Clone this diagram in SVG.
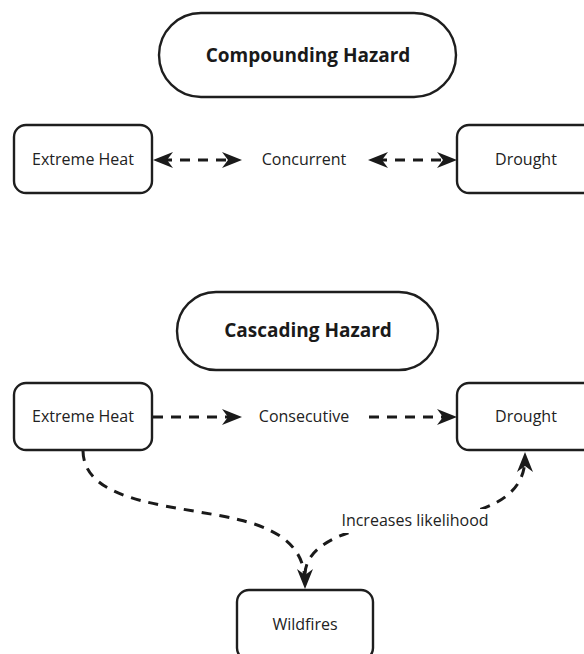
<svg xmlns="http://www.w3.org/2000/svg" width="584" height="654" viewBox="0 0 584 654">
<defs>
<style>
.box{fill:#fff;stroke:#1e1e1e;stroke-width:2.4}
.t{font-family:"Open Sans","Liberation Sans",sans-serif;font-size:16px;fill:#222;text-anchor:middle;dominant-baseline:central}
.tb{font-family:"Open Sans","Liberation Sans",sans-serif;font-size:19px;font-weight:bold;fill:#1a1a1a;text-anchor:middle;dominant-baseline:central}
.c{fill:none;stroke:#1a1a1a;stroke-width:3;stroke-dasharray:10 8}
</style>
<marker id="ah" viewBox="0 0 20 18" refX="14" refY="9" markerWidth="20" markerHeight="18" markerUnits="userSpaceOnUse" orient="auto-start-reverse">
<path d="M0,1 L20,9 L0,17 L6,9 Z" fill="#1a1a1a"/>
</marker>
</defs>
<rect width="584" height="654" fill="#fff"/>
<g id="compounding">
<rect class="box" x="159" y="13" width="297" height="84" rx="42"/>
<text class="tb" x="308" y="55">Compounding Hazard</text>
</g>
<g id="heat1">
<rect class="box" x="14" y="125" width="138" height="68" rx="12"/>
<text class="t" x="83" y="159">Extreme Heat</text>
</g>
<g id="drought1">
<rect class="box" x="457" y="125" width="140" height="68" rx="12"/>
<text class="t" x="526" y="159">Drought</text>
</g>
<g id="cascading">
<rect class="box" x="177" y="292" width="261" height="78" rx="39"/>
<text class="tb" x="308" y="330">Cascading Hazard</text>
</g>
<g id="heat2">
<rect class="box" x="14" y="383" width="138" height="67" rx="12"/>
<text class="t" x="83" y="416">Extreme Heat</text>
</g>
<g id="drought2">
<rect class="box" x="457" y="383" width="140" height="67" rx="12"/>
<text class="t" x="526" y="416">Drought</text>
</g>
<g id="wildfires">
<rect class="box" x="237" y="590" width="136" height="70" rx="12"/>
<text class="t" x="305" y="624">Wildfires</text>
</g>
<g id="connectors">
<path class="c" d="M159,160 L236,160" marker-start="url(#ah)" marker-end="url(#ah)" stroke-dasharray="10 12" stroke-dashoffset="15"/>
<text class="t" x="304" y="159">Concurrent</text>
<path class="c" d="M374,160 L451,160" marker-start="url(#ah)" marker-end="url(#ah)" stroke-dasharray="10 12" stroke-dashoffset="15"/>
<path class="c" d="M153,417 L236,417" marker-end="url(#ah)" stroke-dasharray="10 10"/>
<text class="t" x="304" y="416">Consecutive</text>
<path class="c" d="M369,417 L451,417" marker-end="url(#ah)" stroke-dasharray="10 10"/>
<path class="c" d="M83,451 C84,505 180,505 240,520 C290,532 305,555 305,583" marker-end="url(#ah)"/>
<path class="c" d="M305,574 C306,540 360,524 420,520 C480,516 525,500 525,458" marker-end="url(#ah)"/>
<rect x="336" y="509" width="158" height="24" fill="#fff"/>
<text class="t" x="415" y="520">Increases likelihood</text>
</g>
</svg>
